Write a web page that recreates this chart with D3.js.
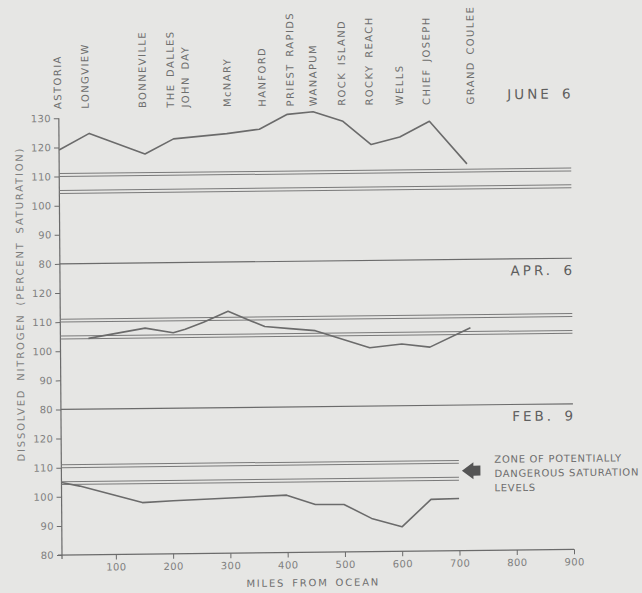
<!DOCTYPE html>
<html>
<head>
<meta charset="utf-8">
<script src="https://cdn.jsdelivr.net/npm/d3@7"></script>
<style>
  body { margin: 0; background: #e6e6e4; }
  svg { display: block; font-family: "DejaVu Sans", sans-serif; }
</style>
</head>
<body>
<div id="chart"></div>
<script>
// stations along the river (label position in miles from ocean)
const stations = ["ASTORIA", "LONGVIEW", "BONNEVILLE", "THE DALLES", "JOHN DAY", "McNARY", "HANFORD",
  "PRIEST RAPIDS", "WANAPUM", "ROCK ISLAND", "ROCKY REACH", "WELLS", "CHIEF JOSEPH", "GRAND COULEE"];
const stationMiles = [4, 52, 152, 201, 227, 300, 361, 410, 450, 500, 548, 601, 648, 725];

// dissolved nitrogen, percent saturation
const juneMiles = [6, 59, 156, 206, 299, 356, 405, 450, 502, 551, 601, 653, 718];
const juneValues = [119.1, 124.7, 117.4, 122.5, 124.1, 125.5, 130.5, 131.3, 127.9, 119.8, 122.3, 127.6, 112.8];

const aprMiles = [55, 154, 203, 224, 256, 299, 340, 363, 407, 451, 546, 602, 651, 722];
const aprValues = [104.3, 107.6, 105.9, 107.1, 109.4, 113.1, 109.6, 107.7, 106.9, 106.1, 100.0, 101.2, 100.0, 106.5];

const febMiles = [6, 38, 147, 201, 399, 449, 499, 547, 600, 651, 700];
const febValues = [104.9, 103.6, 97.7, 98.2, 99.7, 96.4, 96.3, 91.4, 88.4, 97.7, 97.9];

const panelNames = ["JUNE 6", "APR. 6", "FEB. 9"];
const zoneLevels = [111, 110, 105.2, 104.2];
const zoneEnds = [900, 900, 700];
const yTicks = [[80, 90, 100, 110, 120, 130], [80, 90, 100, 110, 120], [80, 90, 100, 110, 120]];
const xTicks = [100, 200, 300, 400, 500, 600, 700, 800, 900];
const legendLines = ["ZONE OF POTENTIALLY", "DANGEROUS SATURATION", "LEVELS"];

const series = [
  juneMiles.map((m, i) => [m, juneValues[i]]),
  aprMiles.map((m, i) => [m, aprValues[i]]),
  febMiles.map((m, i) => [m, febValues[i]])
];

const width = 642, height = 593;
const lineColor = "#6b6b6b", textColor = "#6e6e6e", tickColor = "#7f7f7f";

const x = d3.scaleLinear().domain([6, 900]).range([62, 574]);
const plotTop = 118.3, plotBottom = 555;
const step = (plotBottom - plotTop) / 3;
const ys = panelNames.map((_, i) =>
  d3.scaleLinear().domain([80, 130]).range([plotTop + (i + 1) * step, plotTop + i * step]));

const svg = d3.select("#chart").append("svg")
  .attr("width", width)
  .attr("height", height);

// the photographed sheet is slightly skewed
const g = svg.append("g")
  .attr("transform", `translate(62,555) matrix(1,-0.011,0.0073,1,0,0) translate(-62,-555)`);

// vertical axis line
g.append("line")
  .attr("x1", x(6)).attr("x2", x(6))
  .attr("y1", plotTop).attr("y2", plotBottom + 4)
  .attr("stroke", lineColor).attr("stroke-width", 1.2);

// x axis
g.append("line")
  .attr("x1", x(6) - 4).attr("x2", x(900))
  .attr("y1", plotBottom).attr("y2", plotBottom)
  .attr("stroke", lineColor).attr("stroke-width", 1.2);

const xAxis = g.append("g")
  .attr("transform", `translate(0,${plotBottom})`)
  .call(d3.axisBottom(x).tickValues(xTicks).tickSize(5).tickPadding(4));
xAxis.select(".domain").remove();
xAxis.selectAll("line").attr("stroke", lineColor);
xAxis.selectAll("text")
  .attr("fill", tickColor)
  .attr("font-size", 10)
  .attr("letter-spacing", 0.4)
  .attr("font-family", "DejaVu Sans, sans-serif");

ys.forEach((y, i) => {
  const yAxis = g.append("g")
    .attr("transform", `translate(${x(6)},0)`)
    .call(d3.axisLeft(y).tickValues(yTicks[i]).tickSize(5).tickPadding(3));
  yAxis.select(".domain").remove();
  yAxis.selectAll("line").attr("stroke", lineColor);
  yAxis.selectAll("text")
    .attr("fill", tickColor)
    .attr("font-size", 10)
    .attr("letter-spacing", 0.3)
    .attr("font-family", "DejaVu Sans, sans-serif");

  // separator at 80 for the upper panels
  if (i < 2) {
    g.append("line")
      .attr("x1", x(6)).attr("x2", x(900))
      .attr("y1", y(80)).attr("y2", y(80))
      .attr("stroke", lineColor).attr("stroke-width", 1.2);
  }

  // zone lines
  g.append("g")
    .selectAll("line")
    .data(zoneLevels)
    .join("line")
    .attr("x1", x(6)).attr("x2", x(zoneEnds[i]))
    .attr("y1", (d) => y(d)).attr("y2", (d) => y(d))
    .attr("stroke", "#7a7a7a").attr("stroke-width", 1);

  // series
  g.append("path")
    .datum(series[i])
    .attr("fill", "none")
    .attr("stroke", lineColor)
    .attr("stroke-width", 1.6)
    .attr("stroke-linejoin", "round")
    .attr("d", d3.line().x((d) => x(d[0])).y((d) => y(d[1])));

  // panel date
  g.append("text")
    .attr("x", x(900) + 3)
    .attr("y", i === 0 ? y(134.9) : y(124.3))
    .attr("text-anchor", "end")
    .attr("font-size", 13.5)
    .attr("letter-spacing", 3)
    .attr("word-spacing", 3)
    .attr("fill", "#5e5e5e")
    .text(panelNames[i]);
});

// station names
g.append("g")
  .selectAll("text")
  .data(stations)
  .join("text")
  .attr("transform", (d, i) => `translate(${x(stationMiles[i]) + 3.6},109) rotate(-90)`)
  .attr("font-size", 10)
  .attr("letter-spacing", 1.4)
  .attr("word-spacing", 2)
  .attr("fill", textColor)
  .text((d) => d);

// y title
g.append("text")
  .attr("transform", `translate(25.5,${(plotTop + plotBottom) / 2 - 33}) rotate(-90)`)
  .attr("text-anchor", "middle")
  .attr("font-size", 10)
  .attr("letter-spacing", 1.8)
  .attr("word-spacing", 3)
  .attr("fill", tickColor)
  .text("DISSOLVED NITROGEN (PERCENT SATURATION)");

// x title
g.append("text")
  .attr("x", 313)
  .attr("y", 589)
  .attr("text-anchor", "middle")
  .attr("font-size", 10)
  .attr("letter-spacing", 1.8)
  .attr("word-spacing", 2)
  .attr("fill", textColor)
  .text("MILES FROM OCEAN");

// legend arrow and text
const yf = ys[2];
const ay = yf(107.4);
g.append("path")
  .attr("d", `M462.5,${ay} L474,${ay - 8.5} L474,${ay - 5} L481,${ay - 5} L481,${ay + 5} L474,${ay + 5} L474,${ay + 8.5} Z`)
  .attr("fill", "#555");

g.append("g")
  .selectAll("text")
  .data(legendLines)
  .join("text")
  .attr("x", 495)
  .attr("y", (d, i) => ay - 7.7 + i * 14.3)
  .attr("font-size", 10)
  .attr("letter-spacing", 0.7)
  .attr("fill", textColor)
  .text((d) => d);
</script>
</body>
</html>
